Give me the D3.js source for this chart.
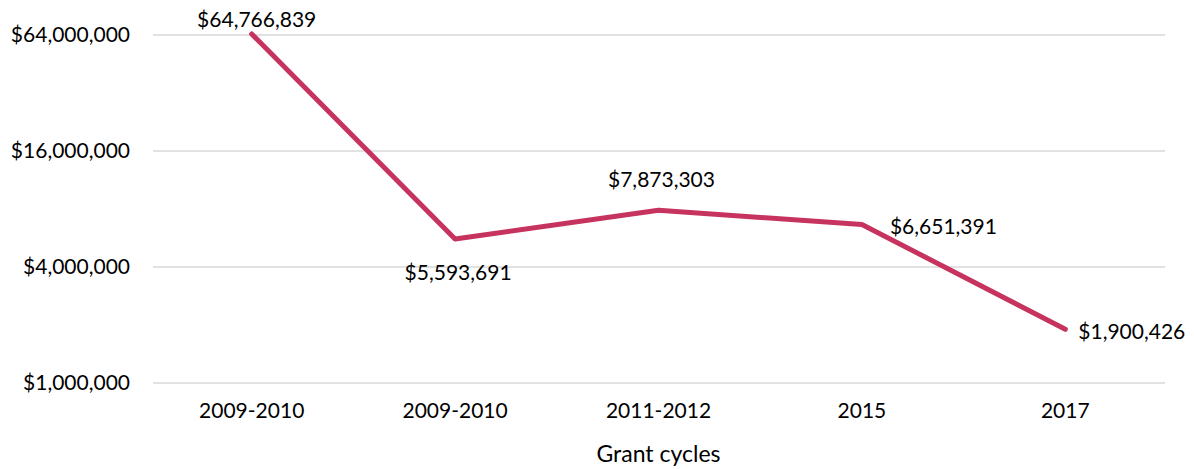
<!DOCTYPE html>
<html>
<head>
<meta charset="utf-8">
<script src="https://cdn.jsdelivr.net/npm/d3@7"></script>
<style>
  body { margin: 0; background: #fff; }
  text { font-family: Lato, "Open Sans", sans-serif; fill: #000; }
</style>
</head>
<body>
<div id="chart"></div>
<script>
const categories = ['2009-2010', '2009-2010', '2011-2012', '2015', '2017'];
const funding = [64766839, 5593691, 7873303, 6651391, 1900426];
const labelPos = ['above', 'below', 'above', 'right', 'right'];
const yTicks = [1000000, 4000000, 16000000, 64000000];

const margin = {top: 35, right: 27, bottom: 86, left: 150},
  width = 1194 - margin.left - margin.right,
  height = 469 - margin.top - margin.bottom;

const x = d3.scaleBand()
  .domain(d3.range(categories.length))
  .range([0, width]);

const y = d3.scaleLog()
  .base(4)
  .domain([1000000, 64000000])
  .range([height, 0]);

const fmt = d3.format('$,');

const svg = d3.select('#chart')
  .append('svg')
  .attr('width', 1194)
  .attr('height', 469)
  .append('g')
  .attr('transform', `translate(${margin.left},${margin.top})`);

// gridlines
svg.append('g')
  .selectAll('line')
  .data(yTicks)
  .enter().append('line')
  .attr('x1', 3)
  .attr('x2', width - 2)
  .attr('y1', d => y(d))
  .attr('y2', d => y(d))
  .attr('stroke', '#d9d9d9')
  .attr('stroke-width', 1.3);

const yAxis = d3.axisLeft(y)
  .tickValues(yTicks)
  .tickFormat(fmt)
  .tickSize(0)
  .tickPadding(20);

svg.append('g')
  .call(yAxis)
  .call(g => g.select('.domain').remove())
  .selectAll('text')
  .style('font-size', '21px');

const xAxis = d3.axisBottom(x)
  .tickFormat(i => categories[i])
  .tickSize(0)
  .tickPadding(20);

svg.append('g')
  .attr('transform', `translate(0,${height})`)
  .call(xAxis)
  .call(g => g.select('.domain').remove())
  .selectAll('text')
  .style('font-size', '21px');

svg.append('text')
  .attr('x', width / 2)
  .attr('y', height + 79)
  .attr('text-anchor', 'middle')
  .style('font-size', '23px')
  .text('Grant cycles');

const line = d3.line()
  .x((d, i) => x(i) + x.bandwidth() / 2)
  .y(d => y(d));

svg.append('path')
  .datum(funding)
  .attr('fill', 'none')
  .attr('stroke', '#c7335f')
  .attr('stroke-width', 5)
  .attr('stroke-linejoin', 'round')
  .attr('stroke-linecap', 'round')
  .attr('d', line);

svg.selectAll('.lbl')
  .data(funding)
  .enter().append('text')
  .attr('class', 'lbl')
  .style('font-size', '21px')
  .attr('x', (d, i) => {
    const cx = x(i) + x.bandwidth() / 2;
    if (labelPos[i] === 'right') return cx + (i === 3 ? 28 : 13);
    return cx + (i === 0 ? 5 : 3);
  })
  .attr('y', (d, i) => {
    const cy = y(d);
    if (labelPos[i] === 'above') return cy - (i === 0 ? 14 : 31);
    if (labelPos[i] === 'below') return cy + 34;
    return cy + 2;
  })
  .attr('dy', '0.35em')
  .attr('text-anchor', (d, i) => labelPos[i] === 'right' ? 'start' : 'middle')
  .text(d => fmt(d));
</script>
</body>
</html>
